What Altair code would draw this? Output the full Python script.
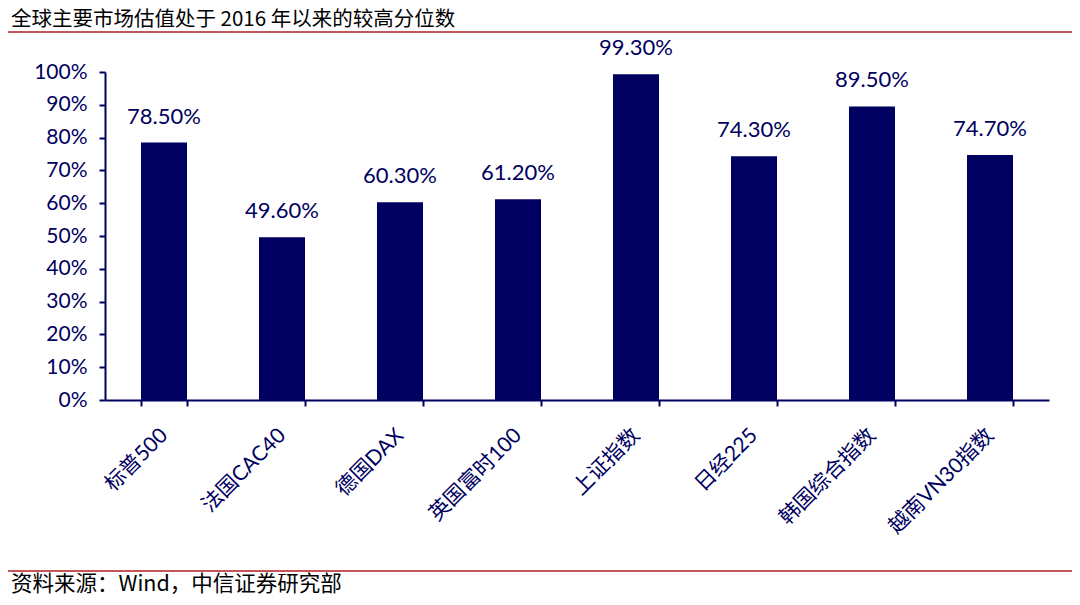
import altair as alt
import pandas as pd

categories = ["标普500", "法国CAC40", "德国DAX", "英国富时100", "上证指数", "日经225", "韩国综合指数", "越南VN30指数"]
values = [0.785, 0.496, 0.603, 0.612, 0.993, 0.743, 0.895, 0.747]
y_ticks = [0.0, 0.1, 0.2, 0.3, 0.4, 0.5, 0.6, 0.7, 0.8, 0.9, 1.0]
title_text = "全球主要市场估值处于 2016 年以来的较高分位数"
source_text = "资料来源：Wind，中信证券研究部"

NAVY = "#000060"
FONT = "Lato, Noto Sans CJK SC"
CJK = "Noto Sans CJK SC, Lato"

df = pd.DataFrame({"cat": categories, "val": values})

base = alt.Chart(df).encode(
    x=alt.X("cat:N", sort=categories, title=None,
            scale=alt.Scale(paddingInner=0.61, paddingOuter=0.305),
            axis=alt.Axis(labelAngle=-45, labelAlign="right", labelBaseline="middle",
                          labelFontSize=21, labelFont=FONT, labelColor=NAVY,
                          labelPadding=26, tickBand="extent", tickSize=6, tickWidth=2,
                          tickColor=NAVY, domainColor=NAVY, domainWidth=2,
                          labelLimit=300, labelOverlap=False)),
    y=alt.Y("val:Q", title=None,
            scale=alt.Scale(domain=[0, 1]),
            axis=alt.Axis(format=".0%", values=y_ticks, tickCount=11, labelOverlap=False,
                          labelFontSize=21, labelFont=FONT, labelColor=NAVY,
                          labelPadding=12, tickSize=6, tickWidth=2, tickColor=NAVY,
                          domainColor=NAVY, domainWidth=2, grid=False)),
)

bars = base.mark_bar(color=NAVY)

labels = base.mark_text(font=FONT, fontSize=22, color=NAVY, baseline="bottom", dy=-14).encode(
    text=alt.Text("val:Q", format=".2%"),
)

tdf = pd.DataFrame({"t": [title_text]})
title = alt.Chart(tdf).mark_text(font=CJK, fontSize=20.5, color="#000000", align="left",
                                 baseline="middle").encode(
    x=alt.value(-94), y=alt.value(-52), text="t:N")

sdf = pd.DataFrame({"t": [source_text]})
source = alt.Chart(sdf).mark_text(font=CJK, fontSize=21.5, color="#000000", align="left",
                                  baseline="middle").encode(
    x=alt.value(-94), y=alt.value(513), text="t:N")

line_top = alt.Chart(tdf).mark_rule(color="#b01e23", strokeWidth=1.5).encode(
    x=alt.value(-97), x2=alt.value(967), y=alt.value(-40))
line_bot = alt.Chart(sdf).mark_rule(color="#b01e23", strokeWidth=1.5).encode(
    x=alt.value(-97), x2=alt.value(967), y=alt.value(499))

chart = alt.layer(bars, labels, title, source, line_top, line_bot).properties(
    width=944, height=328,
    padding={"left": 97, "top": 64, "right": 23, "bottom": 197},
    autosize=alt.AutoSizeParams(type="none"),
).configure_view(stroke=None)

chart.save("out.html", embed_options={"renderer": "svg", "actions": False})
